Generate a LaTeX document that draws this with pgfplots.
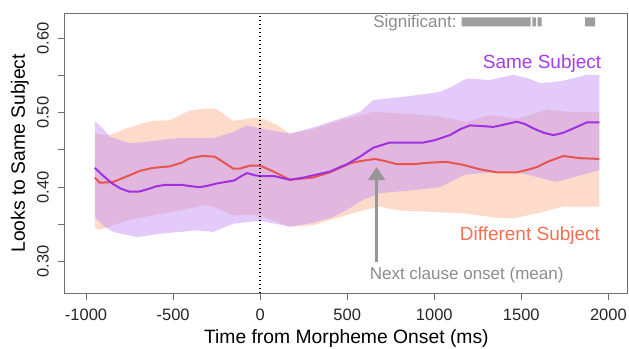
\documentclass[border=0pt]{standalone}
\usepackage{fontspec}
\setmainfont{Liberation Sans}
\usepackage{pgfplots}
\pgfplotsset{compat=1.18}
\usepgfplotslibrary{fillbetween}
\usetikzlibrary{arrows.meta}
\definecolor{purpline}{RGB}{160,48,224}
\definecolor{redline}{RGB}{232,85,80}
\definecolor{peach}{RGB}{253,218,202}
\definecolor{lav}{RGB}{200,150,245}
\definecolor{difftext}{RGB}{240,112,80}
\definecolor{sametext}{RGB}{165,60,235}
\definecolor{sigray}{RGB}{158,158,158}
\definecolor{annogray}{RGB}{140,140,140}
\definecolor{arrowgray}{RGB}{150,150,150}
\definecolor{boxgray}{RGB}{110,110,110}
\begin{document}
\begin{tikzpicture}
\begin{axis}[
  at={(0pt,0pt)}, anchor=south west,
  scale only axis, width=562.7pt, height=280pt,
  xmin=-1121, xmax=2111, ymin=0.2575, ymax=0.6336,
  axis line style={boxgray, line width=1pt},
  tick style={boxgray, line width=1pt},
  tick align=outside, major tick length=7pt,
  xtick pos=bottom, ytick pos=left,
  xtick={-1000,-500,0,500,1000,1500,2000},
  xticklabels={-1000,-500,0,500,1000,1500,2000},
  ytick={0.30,0.35,0.40,0.45,0.50,0.55,0.60},
  yticklabels={0.30,,0.40,,0.50,,0.60},
  xticklabel style={anchor=north, inner sep=0pt, text=black!85, font=\fontsize{16.5}{18}\selectfont},
  yticklabel style={rotate=90, anchor=south, inner sep=0pt, text=black!85, font=\fontsize{16.5}{18}\selectfont},
  xticklabel shift=8.8pt,
  yticklabel shift=9pt,
  xlabel={Time from Morpheme Onset (ms)},
  ylabel={Looks to Same Subject},
  xlabel style={at={(axis description cs:0.5,-0.163)}, anchor=center, inner sep=0pt, font=\fontsize{19.3}{22}\selectfont},
  ylabel style={at={(axis description cs:-0.080,0.5)}, anchor=center, inner sep=0pt, font=\fontsize{19.3}{22}\selectfont},
  clip=false,
]
% Different Subject band
\addplot[name path=dU, draw=none, forget plot] coordinates {
(-950,0.472) (-864,0.470) (-768,0.479) (-672,0.486) (-615,0.489) (-519,0.490)
(-404,0.503) (-308,0.506) (-251,0.505) (-155,0.489) (-40,0.493) (17,0.492)
(94,0.484) (171,0.472) (305,0.478) (458,0.490) (649,0.501) (841,0.499)
(1033,0.495) (1186,0.488) (1320,0.497) (1473,0.492) (1646,0.504) (1799,0.501) (1948,0.501)};
\addplot[name path=dL, draw=none, forget plot] coordinates {
(-950,0.345) (-921,0.343) (-845,0.349) (-749,0.356) (-557,0.365) (-461,0.369)
(-308,0.376) (-250,0.372) (-155,0.362) (-78,0.363) (0,0.362) (171,0.347)
(305,0.349) (401,0.356) (592,0.369) (688,0.374) (784,0.369) (975,0.367)
(1167,0.365) (1359,0.359) (1454,0.358) (1589,0.365) (1741,0.374) (1948,0.374)};
\addplot[fill=peach, draw=none, forget plot] fill between[of=dU and dL];
% Same Subject band
\addplot[name path=sU, draw=none, forget plot] coordinates {
(-950,0.489) (-900,0.478) (-864,0.468) (-749,0.459) (-650,0.461) (-550,0.464)
(-461,0.466) (-270,0.466) (-155,0.474) (-78,0.483) (0,0.479) (171,0.472)
(300,0.480) (458,0.492) (573,0.501) (649,0.517) (841,0.522) (1033,0.528)
(1100,0.535) (1186,0.546) (1320,0.544) (1454,0.551) (1530,0.547) (1607,0.540)
(1680,0.541) (1761,0.544) (1876,0.551) (1948,0.551)};
\addplot[name path=sL, draw=none, forget plot] coordinates {
(-950,0.360) (-900,0.348) (-845,0.340) (-710,0.333) (-557,0.338) (-366,0.342)
(-270,0.340) (-155,0.351) (0,0.355) (171,0.347) (300,0.352) (420,0.360)
(500,0.370) (592,0.383) (688,0.392) (879,0.396) (1033,0.400) (1167,0.416)
(1263,0.419) (1454,0.421) (1550,0.416) (1703,0.407) (1780,0.412) (1948,0.423)};
\addplot[fill=lav, fill opacity=0.5, draw=none, forget plot] fill between[of=sU and sL];
% Different Subject mean
\addplot[redline, line width=2pt] coordinates {
(-950,0.413) (-921,0.406) (-845,0.407) (-750,0.416) (-691,0.422) (-615,0.426)
(-519,0.428) (-450,0.433) (-404,0.439) (-328,0.442) (-260,0.441) (-200,0.432)
(-155,0.425) (-117,0.425) (-59,0.429) (0,0.429) (76,0.421) (171,0.410)
(305,0.413) (401,0.420) (458,0.426) (516,0.432) (573,0.435) (659,0.438)
(720,0.435) (784,0.431) (880,0.431) (975,0.433) (1071,0.434) (1167,0.430)
(1263,0.424) (1359,0.420) (1473,0.420) (1530,0.423) (1589,0.427) (1650,0.434)
(1741,0.442) (1837,0.439) (1948,0.438)};
% Same Subject mean
\addplot[purpline, line width=2pt] coordinates {
(-950,0.426) (-900,0.415) (-850,0.405) (-800,0.398) (-750,0.394) (-700,0.394)
(-650,0.397) (-600,0.401) (-550,0.403) (-450,0.403) (-350,0.400) (-300,0.402)
(-250,0.405) (-200,0.407) (-150,0.409) (-100,0.416) (-75,0.419) (-30,0.416)
(0,0.415) (80,0.415) (170,0.410) (250,0.413) (305,0.416) (400,0.421)
(458,0.427) (500,0.431) (573,0.441) (649,0.453) (745,0.460) (850,0.460)
(937,0.460) (1000,0.463) (1090,0.470) (1150,0.478) (1205,0.483) (1280,0.482)
(1339,0.481) (1400,0.484) (1473,0.488) (1520,0.485) (1569,0.479) (1630,0.473)
(1684,0.470) (1740,0.473) (1799,0.479) (1876,0.487) (1948,0.487)};
% onset line
\addplot[black, line width=1.5pt, dash pattern=on 1.5pt off 2.5pt] coordinates {(0,0.2575) (0,0.6336)};
% significance
\addplot[fill=sigray, draw=none] coordinates {(1157,0.616) (1553,0.616) (1553,0.628) (1157,0.628) (1157,0.616)};
\addplot[fill=sigray, draw=none] coordinates {(1563,0.616) (1585,0.616) (1585,0.628) (1563,0.628) (1563,0.616)};
\addplot[fill=sigray, draw=none] coordinates {(1594,0.616) (1617,0.616) (1617,0.628) (1594,0.628) (1594,0.616)};
\addplot[fill=sigray, draw=none] coordinates {(1866,0.616) (1924,0.616) (1924,0.628) (1866,0.628) (1866,0.616)};
% annotations
\draw[arrowgray, line width=2.5pt, -{Triangle[width=17pt,length=13pt]}] (axis cs:669,0.300) -- (axis cs:669,0.427);
\node[anchor=base east, inner sep=0pt, text=annogray, font=\fontsize{17}{20}\selectfont] at (axis cs:1129,0.6148) {Significant:};
\node[anchor=base east, inner sep=0pt, text=sametext, font=\fontsize{19}{22}\selectfont] at (axis cs:1960,0.559) {Same Subject};
\node[anchor=base east, inner sep=0pt, text=difftext, font=\fontsize{19}{22}\selectfont] at (axis cs:1953,0.328) {Different Subject};
\node[anchor=base, inner sep=0pt, text=annogray, font=\fontsize{17}{20}\selectfont] at (axis cs:1186,0.276) {Next clause onset (mean)};
\end{axis}
\path (-65pt,-54.7pt) rectangle (564pt,293.3pt);
\end{tikzpicture}
\end{document}
